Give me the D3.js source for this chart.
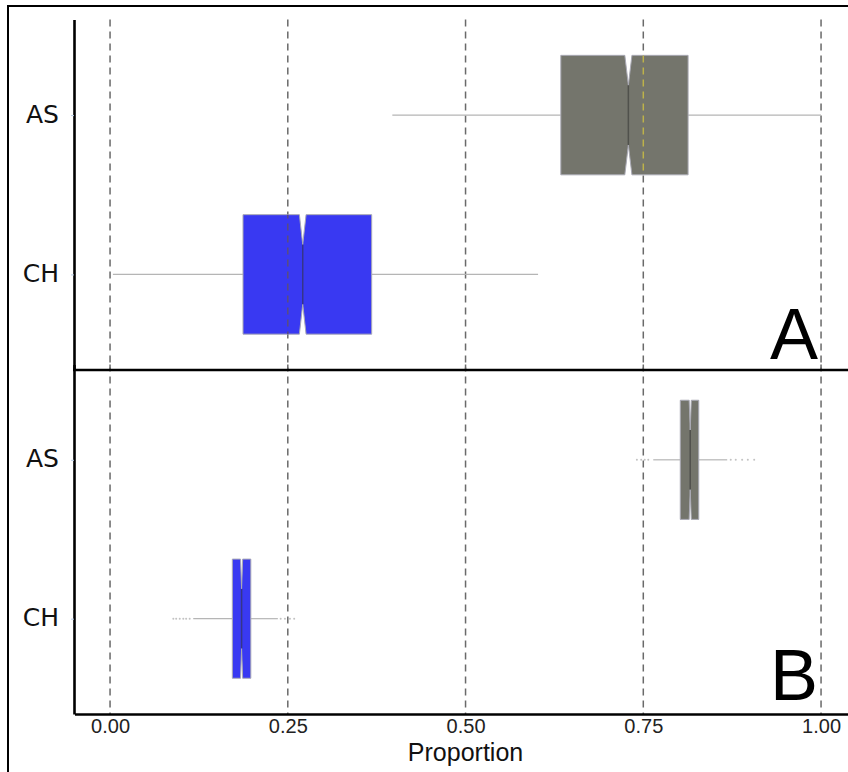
<!DOCTYPE html>
<html>
<head>
<meta charset="utf-8">
<script src="https://cdn.jsdelivr.net/npm/d3@7"></script>
<style>
  html, body { margin: 0; padding: 0; background: #fff; }
  svg { display: block; }
</style>
</head>
<body>
<svg id="chart" width="848" height="772"></svg>
<script>
const categories = ['AS', 'CH']
const xTicks = [0, 0.25, 0.5, 0.75, 1]
const fills = ['#74756c', '#3939f2']
const gridTint = ['#bdb24a', '#5a4e7e']

// panel A summaries, one value per category
const lowA = [0.397, 0.004]
const q1A = [0.634, 0.187]
const medA = [0.729, 0.271]
const q3A = [0.813, 0.368]
const highA = [1.0, 0.602]
const notchA = [0.005, 0.0047]

// panel B summaries
const lowB = [0.764, 0.117]
const q1B = [0.802, 0.172]
const medB = [0.816, 0.185]
const q3B = [0.828, 0.198]
const highB = [0.868, 0.236]
const notchB = [0.0015, 0.0015]
const outliersB_AS = [0.741, 0.747, 0.752, 0.757, 0.873, 0.880, 0.889, 0.897, 0.906]
const outliersB_CH = [0.089, 0.093, 0.098, 0.103, 0.107, 0.112, 0.240, 0.246, 0.253, 0.259]

const panels = [
  { label: 'A', top: 19.5, bottom: 370, low: lowA, q1: q1A, med: medA, q3: q3A, high: highA, notch: notchA, outliers: [[], []], labelY: 359 },
  { label: 'B', top: 364.5, bottom: 714, low: lowB, q1: q1B, med: medB, q3: q3B, high: highB, notch: notchB, outliers: [outliersB_AS, outliersB_CH], labelY: 700 }
]

const svg = d3.select('#chart')
const axisX = 74

const x = d3.scaleLinear()
  .domain([-0.05, 1.05])
  .range([74.5, 856.6])

// outer frame
svg.append('rect')
  .attr('x', 8).attr('y', 6)
  .attr('width', 900).attr('height', 900)
  .attr('fill', 'none')
  .attr('stroke', '#000')
  .attr('stroke-width', 2)

const line = d3.line()

const drawGrid = (g, top, bottom, color) => {
  g.selectAll(null)
    .data(xTicks)
    .enter()
    .append('line')
    .attr('x1', d => x(d)).attr('x2', d => x(d))
    .attr('y1', top).attr('y2', bottom)
    .attr('stroke', color)
    .attr('stroke-width', 1.5)
    .attr('stroke-dasharray', '7,5')
}

panels.forEach((p, pi) => {
  const y = d3.scalePoint()
    .domain(categories)
    .range([p.top, p.bottom])
    .padding(0.6)
  const h = y.step() * 0.75
  const g = svg.append('g')

  drawGrid(g, p.top, p.bottom, '#6a6a6a')

  const boxes = categories.map((c, i) => {
    const yc = y(c)
    const top = yc - h / 2
    const bot = yc + h / 2
    const ind = h * 0.25
    const nl = x(p.med[i] - p.notch[i])
    const nu = x(p.med[i] + p.notch[i])
    const m = x(p.med[i])
    return {
      c, i, yc, top, bot, ind, m,
      pts: [
        [x(p.q1[i]), top], [nl, top], [m, top + ind], [nu, top], [x(p.q3[i]), top],
        [x(p.q3[i]), bot], [nu, bot], [m, bot - ind], [nl, bot], [x(p.q1[i]), bot]
      ]
    }
  })

  // whiskers
  boxes.forEach(b => {
    g.append('line')
      .attr('x1', x(p.low[b.i])).attr('x2', x(p.q1[b.i]))
      .attr('y1', b.yc).attr('y2', b.yc)
      .attr('stroke', '#b5b5b5').attr('stroke-width', 1.2)
    g.append('line')
      .attr('x1', x(p.q3[b.i])).attr('x2', x(p.high[b.i]))
      .attr('y1', b.yc).attr('y2', b.yc)
      .attr('stroke', '#b5b5b5').attr('stroke-width', 1.2)
    g.selectAll(null)
      .data(p.outliers[b.i])
      .enter()
      .append('circle')
      .attr('cx', d => x(d))
      .attr('cy', b.yc)
      .attr('r', 1)
      .attr('fill', '#a8a8a8')
      .attr('opacity', 0.7)
  })

  // notched boxes
  boxes.forEach(b => {
    g.append('path')
      .attr('d', line(b.pts) + 'Z')
      .attr('fill', fills[b.i])
      .attr('stroke', '#a9a9b4')
      .attr('stroke-width', 1)
    g.append('line')
      .attr('x1', b.m).attr('x2', b.m)
      .attr('y1', b.top + b.ind).attr('y2', b.bot - b.ind)
      .attr('stroke', '#333')
      .attr('stroke-opacity', 0.55)
      .attr('stroke-width', 1.5)

    // gridline seen through the box
    const id = `clip-${pi}-${b.i}`
    svg.append('clipPath').attr('id', id)
      .append('path').attr('d', line(b.pts) + 'Z')
    const tg = g.append('g').attr('clip-path', `url(#${id})`)
    drawGrid(tg, p.top, p.bottom, gridTint[b.i])
  })

  // y axis
  const ya = g.append('g')
    .attr('transform', `translate(${axisX},0)`)
    .call(d3.axisLeft(y).tickSizeInner(3).tickSizeOuter(0).tickPadding(12))
  ya.select('.domain').attr('stroke', '#000').attr('stroke-width', 2.6)
  ya.selectAll('.tick line').attr('stroke', '#b8cce4').attr('stroke-width', 1)
  ya.selectAll('.tick text')
    .attr('font-family', 'DejaVu Sans')
    .attr('font-size', 25)
    .attr('dy', '0.28em')
    .attr('fill', '#111')

  // panel letter
  g.append('text')
    .attr('x', 818)
    .attr('y', p.labelY)
    .attr('text-anchor', 'end')
    .attr('font-family', 'Liberation Sans, Arial, sans-serif')
    .attr('font-size', 72)
    .attr('fill', '#000')
    .text(p.label)
})

// divider between panels (bottom line of panel A)
svg.append('line')
  .attr('x1', axisX - 1).attr('x2', 848)
  .attr('y1', 370).attr('y2', 370)
  .attr('stroke', '#000').attr('stroke-width', 2.6)

// x axis of panel B
const xa = svg.append('g')
  .attr('transform', 'translate(0,714)')
  .call(d3.axisBottom(x).tickValues(xTicks).tickFormat(d3.format('.2f')).tickSizeInner(0).tickSizeOuter(0).tickPadding(5))
xa.select('.domain').attr('stroke', '#000').attr('stroke-width', 2.6)
xa.selectAll('.tick text')
  .attr('font-family', 'Liberation Sans, Arial, sans-serif')
  .attr('font-size', 20)
  .attr('fill', '#222')

svg.append('text')
  .attr('x', x(0.5))
  .attr('y', 761)
  .attr('text-anchor', 'middle')
  .attr('font-family', 'Liberation Sans, Arial, sans-serif')
  .attr('font-size', 25)
  .attr('fill', '#111')
  .text('Proportion')
</script>
</body>
</html>
